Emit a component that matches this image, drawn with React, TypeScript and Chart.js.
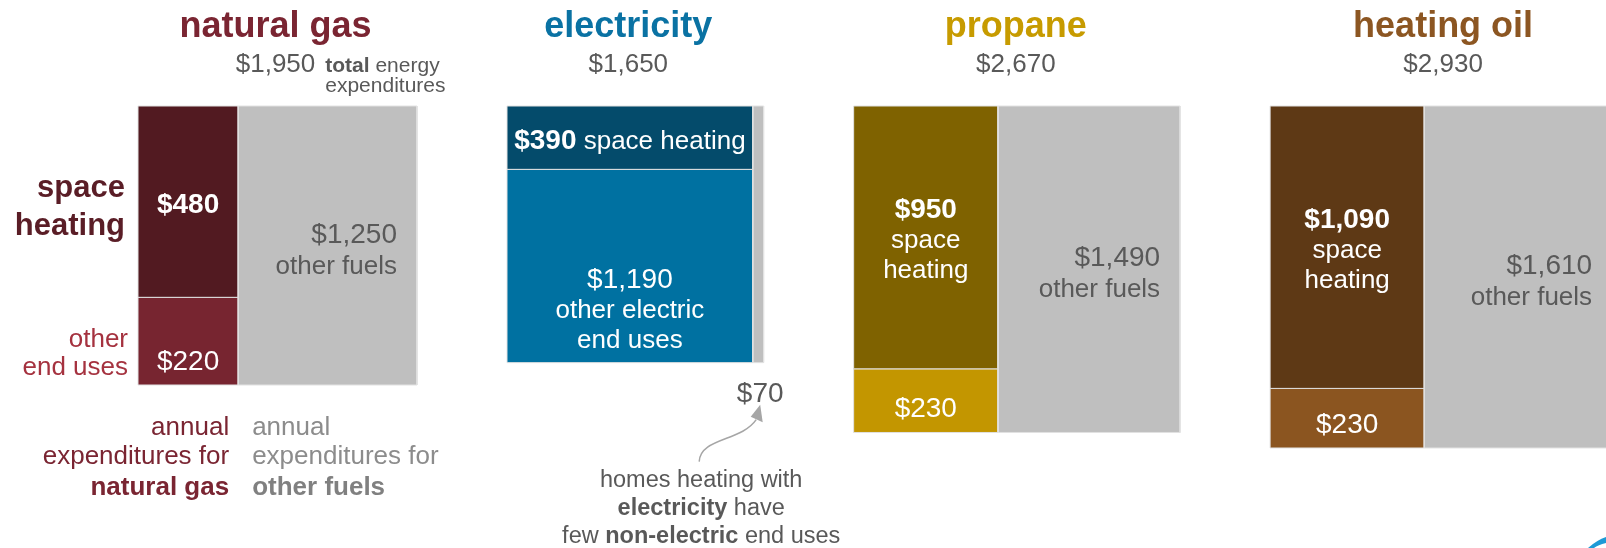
import React, { useEffect, useRef } from 'react';
import { Chart, registerables } from 'chart.js';

Chart.register(...registerables);

// ---------- data ----------
const fuels = ['natural gas', 'electricity', 'propane', 'heating oil'];
const spaceHeating = [480, 390, 950, 1090];
const otherEndUses = [220, 1190, 230, 230];
const otherFuels = [1250, 70, 1490, 1610];
const totals = [1950, 1650, 2670, 2930];

// ---------- styles ----------
const titleColors = ['#7a2532', '#0a72a3', '#c79b00', '#8c5622'];
const heatColors = ['#521a21', '#044b6b', '#7f6200', '#5e3915'];
const otherUseColors = ['#772530', '#0071a1', '#c39600', '#8b5520'];
const GRAY = '#bfbfbf';
const TEXT_GRAY = '#595959';
const FONT = '"Liberation Sans", Arial, Helvetica, sans-serif';

// ---------- layout ----------
const W = 1606;
const H = 548;
const X0 = 138;
const TOP = 106;
const GAP = 90;
const K = 279 / Math.sqrt(1950); // px per sqrt-dollar (area proportional to total)
const titleShift = [-2, -7, -1, 2];

const fmt = (v: number) => '$' + v.toLocaleString('en-US');

type Rect = { x0: number; y0: number; x1: number; y1: number };
type Geo = { left: number; side: number; heat: Rect; use: Rect; gray: Rect };

const geo: Geo[] = (() => {
  const out: Geo[] = [];
  let left = X0;
  totals.forEach((t, i) => {
    const side = K * Math.sqrt(t);
    const own = spaceHeating[i] + otherEndUses[i];
    const colW = (side * own) / t;
    const shH = (side * spaceHeating[i]) / own;
    out.push({
      left,
      side,
      heat: { x0: left, y0: TOP, x1: left + colW, y1: TOP + shH },
      use: { x0: left, y0: TOP + shH, x1: left + colW, y1: TOP + side },
      gray: { x0: left + colW, y0: TOP, x1: left + side, y1: TOP + side },
    });
    left += side + GAP;
  });
  return out;
})();

const rectData = (r: Rect) => [
  { x: r.x0, y: r.y0 },
  { x: r.x1, y: r.y0 },
  { x: r.x1, y: r.y1 },
  { x: r.x0, y: r.y1 },
  { x: r.x0, y: r.y0 },
];

type Part = { t: string; b?: boolean; s: number; c?: string };

function rich(ctx: CanvasRenderingContext2D, parts: Part[], x: number, y: number, align: 'left' | 'center' | 'right', color: string) {
  const fonts = parts.map((p) => `${p.b ? 'bold ' : ''}${p.s}px ${FONT}`);
  let total = 0;
  const widths = parts.map((p, i) => {
    ctx.font = fonts[i];
    const w = ctx.measureText(p.t).width;
    total += w;
    return w;
  });
  let cx = align === 'left' ? x : align === 'center' ? x - total / 2 : x - total;
  ctx.textAlign = 'left';
  ctx.textBaseline = 'alphabetic';
  parts.forEach((p, i) => {
    ctx.font = fonts[i];
    ctx.fillStyle = p.c || color;
    ctx.fillText(p.t, cx, y);
    cx += widths[i];
  });
  return total;
}

// label lines inside the fuel's own column
const topLabels: Part[][][] = [
  [[{ t: fmt(spaceHeating[0]), b: true, s: 28 }]],
  [[{ t: fmt(spaceHeating[1]), b: true, s: 28 }, { t: ' space heating', s: 26 }]],
  [[{ t: fmt(spaceHeating[2]), b: true, s: 28 }], [{ t: 'space', s: 26 }], [{ t: 'heating', s: 26 }]],
  [[{ t: fmt(spaceHeating[3]), b: true, s: 28 }], [{ t: 'space', s: 26 }], [{ t: 'heating', s: 26 }]],
];
const bottomLabels: Part[][][] = [
  [[{ t: fmt(otherEndUses[0]), s: 28 }]],
  [[{ t: fmt(otherEndUses[1]), s: 28 }], [{ t: 'other electric', s: 26 }], [{ t: 'end uses', s: 26 }]],
  [[{ t: fmt(otherEndUses[2]), s: 28 }]],
  [[{ t: fmt(otherEndUses[3]), s: 28 }]],
];

const textPlugin = {
  id: 'infoText',
  afterDraw(chart: any) {
    const ctx: CanvasRenderingContext2D = chart.ctx;
    const xs = chart.scales.x;
    const ys = chart.scales.y;
    const px = (v: number) => xs.getPixelForValue(v);
    const py = (v: number) => ys.getPixelForValue(v);
    ctx.save();

    geo.forEach((g, i) => {
      const cx = px(g.left + g.side / 2) + titleShift[i];
      // title + total
      rich(ctx, [{ t: fuels[i], b: true, s: 36 }], cx, py(37), 'center', titleColors[i]);
      const tw = rich(ctx, [{ t: fmt(totals[i]), s: 26 }], cx, py(72), 'center', TEXT_GRAY);
      if (i === 0) {
        const nx = cx + tw / 2 + 10;
        rich(ctx, [{ t: 'total', b: true, s: 21 }, { t: ' energy', s: 21 }], nx, py(72), 'left', TEXT_GRAY);
        rich(ctx, [{ t: 'expenditures', s: 21 }], nx, py(92), 'left', TEXT_GRAY);
      }

      // top (space heating) segment
      const hx = px((g.heat.x0 + g.heat.x1) / 2);
      const hc = py((g.heat.y0 + g.heat.y1) / 2);
      const tl = topLabels[i];
      const tStart = tl.length === 1 ? hc + 11.5 : hc - 19;
      tl.forEach((line, k) => rich(ctx, line, hx, tStart + k * 30, 'center', '#ffffff'));

      // bottom (other end uses) segment
      const ux = px((g.use.x0 + g.use.x1) / 2);
      const ub = py(g.use.y1);
      const bl = bottomLabels[i];
      bl.forEach((line, k) => rich(ctx, line, ux, ub - 15 - (bl.length - 1 - k) * 30, 'center', '#ffffff'));

      // gray segment (other fuels)
      if (i !== 1) {
        const gx = px(g.gray.x1) - 20;
        const gc = py((g.gray.y0 + g.gray.y1) / 2);
        rich(ctx, [{ t: fmt(otherFuels[i]), s: 28 }], gx, gc - 3, 'right', TEXT_GRAY);
        rich(ctx, [{ t: 'other fuels', s: 26 }], gx, gc + 28, 'right', TEXT_GRAY);
      } else {
        const sx = px((g.gray.x0 + g.gray.x1) / 2);
        const by = py(g.gray.y1);
        rich(ctx, [{ t: fmt(otherFuels[i]), s: 28 }], sx + 2, by + 39, 'center', TEXT_GRAY);
        // arrow
        ctx.strokeStyle = '#a6a6a6';
        ctx.fillStyle = '#a6a6a6';
        ctx.lineWidth = 1.5;
        ctx.beginPath();
        ctx.moveTo(sx - 59, by + 99);
        ctx.bezierCurveTo(sx - 58, by + 75, sx - 17, by + 79, sx - 2, by + 57);
        ctx.stroke();
        ctx.beginPath();
        ctx.moveTo(sx + 2, by + 42);
        ctx.lineTo(sx - 7.5, by + 54);
        ctx.lineTo(sx + 4.5, by + 59.5);
        ctx.closePath();
        ctx.fill();
        // annotation
        const ax = sx - 57;
        rich(ctx, [{ t: 'homes heating with', s: 23.5 }], ax, by + 124.5, 'center', TEXT_GRAY);
        rich(ctx, [{ t: 'electricity', b: true, s: 23.5 }, { t: ' have', s: 23.5 }], ax, by + 152, 'center', TEXT_GRAY);
        rich(ctx, [{ t: 'few ', s: 23.5 }, { t: 'non-electric', b: true, s: 23.5 }, { t: ' end uses', s: 23.5 }], ax, by + 180, 'center', TEXT_GRAY);
      }
    });

    // natural gas legend labels
    const g0 = geo[0];
    const lx = px(g0.left);
    const hc0 = py((g0.heat.y0 + g0.heat.y1) / 2);
    rich(ctx, [{ t: 'space', b: true, s: 31 }], lx - 13, hc0 - 4.5, 'right', '#5a1d26');
    rich(ctx, [{ t: 'heating', b: true, s: 31 }], lx - 13, hc0 + 33.5, 'right', '#5a1d26');
    const uc0 = py((g0.use.y0 + g0.use.y1) / 2);
    rich(ctx, [{ t: 'other', s: 26 }], lx - 10, uc0 + 6, 'right', '#a5323f');
    rich(ctx, [{ t: 'end uses', s: 26 }], lx - 10, uc0 + 34, 'right', '#a5323f');

    const split = px(g0.heat.x1);
    const b0 = py(g0.use.y1);
    const maroon = '#7a2532';
    rich(ctx, [{ t: 'annual', s: 26 }], split - 9, b0 + 50, 'right', maroon);
    rich(ctx, [{ t: 'expenditures for', s: 26 }], split - 9, b0 + 79, 'right', maroon);
    rich(ctx, [{ t: 'natural gas', b: true, s: 26 }], split - 9, b0 + 110, 'right', maroon);
    rich(ctx, [{ t: 'annual', s: 26 }], split + 14, b0 + 50, 'left', '#8c8c8c');
    rich(ctx, [{ t: 'expenditures for', s: 26 }], split + 14, b0 + 79, 'left', '#8c8c8c');
    rich(ctx, [{ t: 'other fuels', b: true, s: 26 }], split + 14, b0 + 110, 'left', '#808080');

    // logo fragment bottom-right
    ctx.fillStyle = '#1d9ad6';
    ctx.beginPath();
    ctx.moveTo(1588, 548);
    ctx.quadraticCurveTo(1597, 540, 1606, 537);
    ctx.lineTo(1606, 543);
    ctx.quadraticCurveTo(1598, 545, 1594, 548);
    ctx.closePath();
    ctx.fill();

    ctx.restore();
  },
};

export default function App() {
  const ref = useRef<HTMLCanvasElement>(null);
  useEffect(() => {
    document.body.style.margin = '0';
    const datasets: any[] = [];
    geo.forEach((g, i) => {
      const parts: [Rect, string, string][] = [
        [g.heat, heatColors[i], fuels[i] + ' space heating'],
        [g.use, otherUseColors[i], fuels[i] + ' other end uses'],
        [g.gray, GRAY, fuels[i] + ' other fuels'],
      ];
      parts.forEach(([r, c, label]) => {
        datasets.push({
          label,
          data: rectData(r),
          showLine: true,
          fill: 'shape',
          backgroundColor: c,
          borderColor: '#e2e2e2',
          borderWidth: 1,
          pointRadius: 0,
          pointHoverRadius: 0,
          tension: 0,
        });
      });
    });
    const chart = new Chart(ref.current as HTMLCanvasElement, {
      type: 'scatter',
      data: { datasets },
      options: {
        animation: false,
        responsive: false,
        devicePixelRatio: 1,
        events: [],
        layout: { padding: 0 },
        plugins: { legend: { display: false }, tooltip: { enabled: false } },
        scales: {
          x: { type: 'linear', min: 0, max: W, display: false },
          y: { type: 'linear', min: 0, max: H, reverse: true, display: false },
        },
      },
      plugins: [textPlugin],
    } as any);
    return () => chart.destroy();
  }, []);
  return (
    <div style={{ position: 'absolute', left: 0, top: 0, width: W, height: H, background: '#fff', overflow: 'hidden' }}>
      <canvas ref={ref} width={W} height={H} style={{ display: 'block', width: W, height: H }} />
    </div>
  );
}
